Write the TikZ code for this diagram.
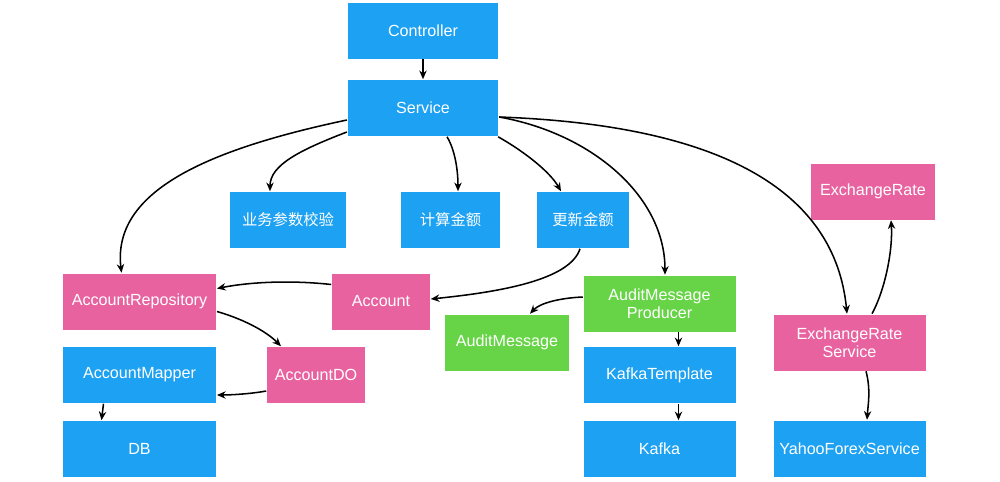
\documentclass[tikz,border=0pt]{standalone}
\usepackage{fontspec}
\setmainfont{Liberation Sans}
\newfontfamily\cjk[Scale=0.95]{Noto Sans CJK SC}
\usetikzlibrary{arrows.meta,calc}

\definecolor{boxblue}{RGB}{29,161,242}
\definecolor{boxpink}{RGB}{232,98,160}
\definecolor{boxgreen}{RGB}{102,212,70}

\tikzset{every picture/.style={line width=1.15pt}}
\tikzset{
  box/.style={rectangle, inner sep=0pt, minimum height=42pt, text=white, align=center,
    font=\fontsize{12.1}{13.5}\selectfont},
  bluebox/.style={box, fill=boxblue},
  pinkbox/.style={box, fill=boxpink},
  greenbox/.style={box, fill=boxgreen},
  link/.style={-{Stealth[length=6.5pt,width=5.5pt]}, black}
}

\begin{document}
\begin{tikzpicture}[x=0.75pt,y=0.75pt,yscale=-1,xscale=1]
%set diagram left start at 0, and has height of 482
\useasboundingbox (0,0) rectangle (1000,482);

%Shape: Rectangle
\node [bluebox, minimum width=113pt] (ctrl) at (423,30.5) {Controller};
%Shape: Rectangle
\node [bluebox, minimum width=113pt] (svc) at (423,108) {Service};
%Shape: Rectangle
\node [bluebox, minimum width=87pt] (check) at (288,220) {\cjk 业务参数校验};
%Shape: Rectangle
\node [bluebox, minimum width=74pt] (calc) at (450.5,220) {\cjk 计算金额};
%Shape: Rectangle
\node [bluebox, minimum width=69pt] (update) at (583,220) {\cjk 更新金额};
%Shape: Rectangle
\node [pinkbox, minimum width=93pt] (rate) at (873,191.5) {ExchangeRate};
%Shape: Rectangle
\node [pinkbox, minimum width=115pt] (repo) at (139.5,301.5) {AccountRepository};
%Shape: Rectangle
\node [pinkbox, minimum width=73.5pt] (acct) at (381,301.5) {Account};
%Shape: Rectangle
\node [greenbox, minimum width=114pt] (prod) at (659.5,303.5) {AuditMessage\\Producer};
%Shape: Rectangle
\node [greenbox, minimum width=93pt] (msg) at (507,342.5) {AuditMessage};
%Shape: Rectangle
\node [pinkbox, minimum width=114pt] (ratesvc) at (849.5,342.5) {ExchangeRate\\Service};
%Shape: Rectangle
\node [bluebox, minimum width=115pt] (mapper) at (139.5,375) {AccountMapper};
%Shape: Rectangle
\node [pinkbox, minimum width=73.5pt] (accdo) at (316,375) {AccountDO};
%Shape: Rectangle
\node [bluebox, minimum width=114pt] (tmpl) at (659.5,375) {KafkaTemplate};
%Shape: Rectangle
\node [bluebox, minimum width=115pt] (db) at (139.5,449) {DB};
%Shape: Rectangle
\node [bluebox, minimum width=114pt] (kafka) at (659.5,449) {Kafka};
%Shape: Rectangle
\node [bluebox, minimum width=114pt] (yahoo) at (849.5,448.5) {YahooForexService};

%Straight Lines
\draw [link] (ctrl.south) -- (svc.north);
\draw [link] ($(mapper.south)+(-36,0)$) -- ($(db.north)+(-38,0)$);
\draw [link] ($(prod.south)+(19,0)$) -- ($(tmpl.north)+(19,0)$);
\draw [link] ($(tmpl.south)+(19,0)$) -- ($(kafka.north)+(19,0)$);

%Curve Lines
\draw [link] ($(svc.west)+(0,12)$) .. controls (205,150) and (112,192) .. ($(repo.north)+(-18,0)$);
\draw [link] ($(svc.west)+(0,24)$) .. controls (300,150) and (270,165) .. ($(check.north)+(-18,0)$);
\draw [link] ($(svc.south)+(24,0)$) .. controls (455,150) and (458,170) .. ($(calc.north)+(7.5,0)$);
\draw [link] ($(svc.south east)+(-1,0)$) .. controls (525,152) and (550,172) .. ($(update.north)+(-22,0)$);
\draw [link] ($(svc.east)+(0,9)$) .. controls (590,133) and (665,195) .. ($(prod.north)+(5.5,0)$);
\draw [link] ($(svc.east)+(0,9)$) .. controls (720,125) and (835,190) .. ($(ratesvc.north)+(-2.5,0)$);
\draw [link] ($(ratesvc.north)+(22.5,0)$) .. controls (885,290) and (893,250) .. ($(rate.south)+(18,0)$);
\draw [link] ($(update.south)+(-3,0)$) .. controls (570,280) and (500,292) .. ($(acct.east)+(0,-2.5)$);
\draw [link] ($(acct.west)+(0,-17)$) .. controls (290,280) and (250,282) .. ($(repo.east)+(0,-13)$);
\draw [link] ($(repo.east)+(0,10)$) .. controls (240,318) and (265,330) .. ($(accdo.north)+(-35,0)$);
\draw [link] ($(accdo.west)+(0,16)$) .. controls (250,394) and (230,395) .. ($(mapper.east)+(0,20)$);
\draw [link] ($(prod.west)+(0,-6.5)$) .. controls (560,298) and (540,303) .. ($(msg.north)+(23,0)$);
\draw [link] ($(ratesvc.south)+(16.5,0)$) .. controls (871,390) and (868,405) .. ($(yahoo.north)+(17.5,0)$);

\end{tikzpicture}
\end{document}
